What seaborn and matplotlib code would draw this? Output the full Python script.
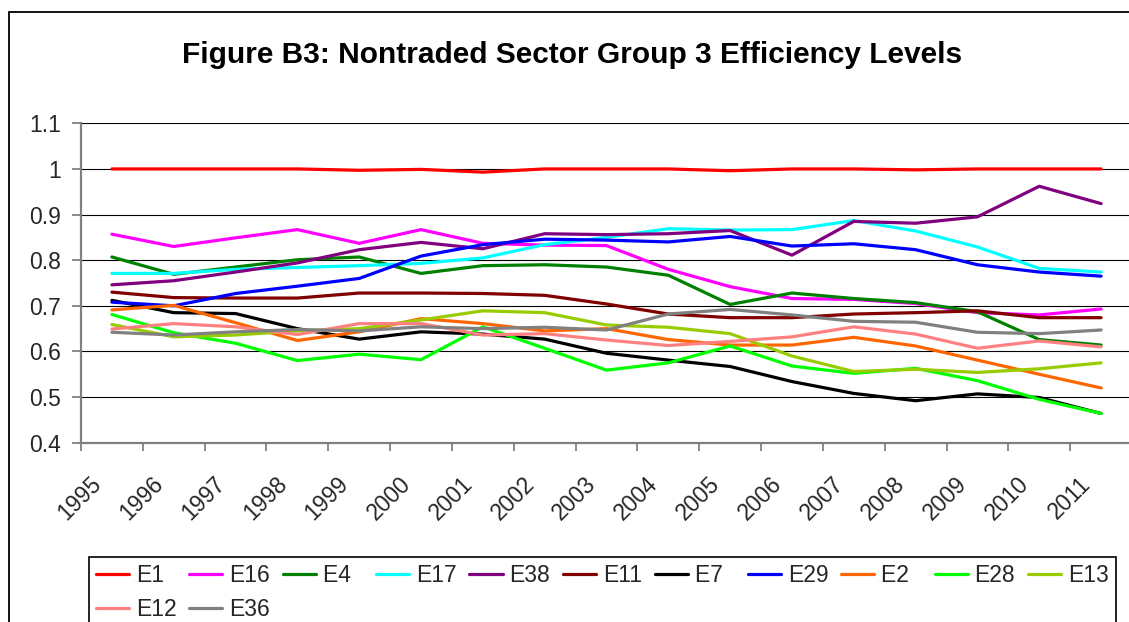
import matplotlib
matplotlib.use("Agg")
import matplotlib.pyplot as plt
import matplotlib.patches as mpatches
from matplotlib.transforms import ScaledTranslation
import pandas as pd
import seaborn as sns

# ── Data ───────────────────────────────────────────────────────────────────
YEARS = list(range(1995, 2012))
SERIES = ["E1", "E16", "E4", "E17", "E38", "E11", "E7",
          "E29", "E2", "E28", "E13", "E12", "E36"]
COLORS = ["#FF0000", "#FF00FF", "#008000", "#00FFFF", "#800080", "#800000",
          "#000000", "#0000FF", "#FF6600", "#00FF00", "#99CC00", "#FF8080",
          "#808080"]

E1  = [1.000, 1.000, 1.000, 1.000, 0.997, 0.999, 0.993, 1.000, 1.000,
       1.000, 0.996, 1.000, 1.000, 0.998, 1.000, 1.000, 1.000]
E16 = [0.857, 0.830, 0.849, 0.867, 0.837, 0.867, 0.837, 0.833, 0.832,
       0.780, 0.742, 0.716, 0.714, 0.705, 0.685, 0.680, 0.693]
E4  = [0.807, 0.769, 0.785, 0.801, 0.807, 0.771, 0.788, 0.790, 0.785,
       0.767, 0.703, 0.728, 0.716, 0.707, 0.687, 0.626, 0.614]
E17 = [0.771, 0.771, 0.780, 0.784, 0.788, 0.793, 0.805, 0.834, 0.850,
       0.869, 0.866, 0.867, 0.887, 0.864, 0.829, 0.782, 0.774]
E38 = [0.746, 0.755, 0.774, 0.794, 0.823, 0.839, 0.825, 0.858, 0.856,
       0.858, 0.865, 0.811, 0.885, 0.881, 0.895, 0.962, 0.924]
E11 = [0.730, 0.718, 0.717, 0.717, 0.728, 0.728, 0.727, 0.723, 0.704,
       0.682, 0.674, 0.674, 0.682, 0.685, 0.689, 0.674, 0.674]
E7  = [0.712, 0.685, 0.683, 0.650, 0.627, 0.643, 0.638, 0.627, 0.596,
       0.581, 0.567, 0.534, 0.508, 0.492, 0.507, 0.499, 0.464]
E29 = [0.708, 0.700, 0.727, 0.743, 0.760, 0.809, 0.834, 0.846, 0.844,
       0.840, 0.852, 0.831, 0.836, 0.823, 0.790, 0.774, 0.765]
E2  = [0.691, 0.701, 0.663, 0.624, 0.643, 0.672, 0.661, 0.645, 0.650,
       0.626, 0.614, 0.614, 0.631, 0.612, 0.581, 0.550, 0.520]
E28 = [0.681, 0.641, 0.618, 0.580, 0.594, 0.582, 0.654, 0.607, 0.559,
       0.575, 0.612, 0.568, 0.552, 0.563, 0.536, 0.495, 0.464]
E13 = [0.659, 0.632, 0.636, 0.645, 0.650, 0.669, 0.689, 0.685, 0.658,
       0.653, 0.639, 0.590, 0.556, 0.561, 0.554, 0.562, 0.575]
E12 = [0.649, 0.661, 0.654, 0.637, 0.661, 0.661, 0.636, 0.639, 0.625,
       0.613, 0.622, 0.632, 0.654, 0.638, 0.607, 0.623, 0.610]
E36 = [0.642, 0.636, 0.643, 0.648, 0.645, 0.654, 0.650, 0.653, 0.647,
       0.682, 0.692, 0.680, 0.666, 0.664, 0.642, 0.639, 0.647]

Y_TICKS = [0.4, 0.5, 0.6, 0.7, 0.8, 0.9, 1.0, 1.1]
TITLE = "Figure B3: Nontraded Sector Group 3 Efficiency Levels"

values = {"E1": E1, "E16": E16, "E4": E4, "E17": E17, "E38": E38,
          "E11": E11, "E7": E7, "E29": E29, "E2": E2, "E28": E28,
          "E13": E13, "E12": E12, "E36": E36}
df = pd.DataFrame([{"year": y, "value": v, "series": s}
                   for s in SERIES for y, v in zip(YEARS, values[s])])

# ── Style ──────────────────────────────────────────────────────────────────
sns.set_theme(style="white")
plt.rcParams["font.family"] = ["Liberation Sans", "DejaVu Sans"]

W, H = 1129, 622
FS = 16.5
fig = plt.figure(figsize=(W / 100, H / 100), dpi=100)
fig.patch.set_facecolor("white")

# outer chart border (cropped on right/bottom like the reference)
fig.add_artist(mpatches.Rectangle((8.5 / W, -0.2), 1.5, 1 - 12 / H + 0.2,
                                  transform=fig.transFigure, fill=False,
                                  ec="black", lw=1.3))

fig.text(572 / W, 1 - 63 / H, TITLE, ha="center", va="baseline",
         fontsize=21.5, fontweight="bold", color="black")

ax = fig.add_axes([81 / W, 1 - 442.7 / H, 1051 / W, 319.4 / H])
sns.lineplot(data=df, x="year", y="value", hue="series", hue_order=SERIES,
             palette=dict(zip(SERIES, COLORS)), lw=2.3, ax=ax, legend=True)

ax.set_xlim(YEARS[0] - 0.5, YEARS[-1] + 0.5)
ax.set_ylim(Y_TICKS[0], Y_TICKS[-1])
ax.set_xlabel("")
ax.set_ylabel("")

ax.set_yticks(Y_TICKS)
ax.set_yticklabels([f"{t:g}" for t in Y_TICKS], fontsize=FS)
ax.tick_params(axis="y", left=True, length=6.5, width=1.3, color="#808080",
               pad=8)

ax.set_xticks(YEARS)
ax.set_xticks([y - 0.5 for y in YEARS] + [YEARS[-1] + 0.5], minor=True)
ax.set_xticklabels([str(y) for y in YEARS], fontsize=FS, rotation=45,
                   ha="right", va="center", rotation_mode="anchor")
ax.tick_params(axis="x", which="major", bottom=True, length=0, pad=27)
ax.tick_params(axis="x", which="minor", bottom=True, length=6, width=1.3,
               color="#808080")
shift = ScaledTranslation(-14 / 100, 0, fig.dpi_scale_trans)
for lab in ax.get_xticklabels():
    lab.set_transform(lab.get_transform() + shift)

ax.yaxis.grid(True, color="black", lw=0.8)
ax.xaxis.grid(False)
for side in ["top", "right"]:
    ax.spines[side].set_visible(False)
for side in ["left", "bottom"]:
    ax.spines[side].set_color("#808080")
    ax.spines[side].set_linewidth(1.6)
ax.set_axisbelow(True)

# legend at the bottom, framed, filled row by row (11 + 2)
leg = ax.get_legend()
handles = dict(zip([t.get_text() for t in leg.get_texts()], leg.legend_handles))
leg.remove()
for h in handles.values():
    h.set_linewidth(2.3)
# matplotlib fills columns first: pair row-2 entries with the first columns
order = [SERIES[0], SERIES[11], SERIES[1], SERIES[12]] + SERIES[2:11]
narrow = {"E4", "E7", "E2"}
labels = [s + "\u2007" if s in narrow else s for s in order]
fl = fig.legend([handles[s] for s in order], labels, loc="upper left",
                bbox_to_anchor=(89 / W, 1 - 557 / H), ncol=11, fontsize=FS,
                frameon=True, fancybox=False, edgecolor="black", framealpha=1,
                handlelength=1.45, handletextpad=0.3, columnspacing=0.55,
                borderpad=0.3, labelspacing=0.5, borderaxespad=0)
fl.get_frame().set_linewidth(1.2)

fig.savefig("out.png", dpi=100, facecolor="white")
